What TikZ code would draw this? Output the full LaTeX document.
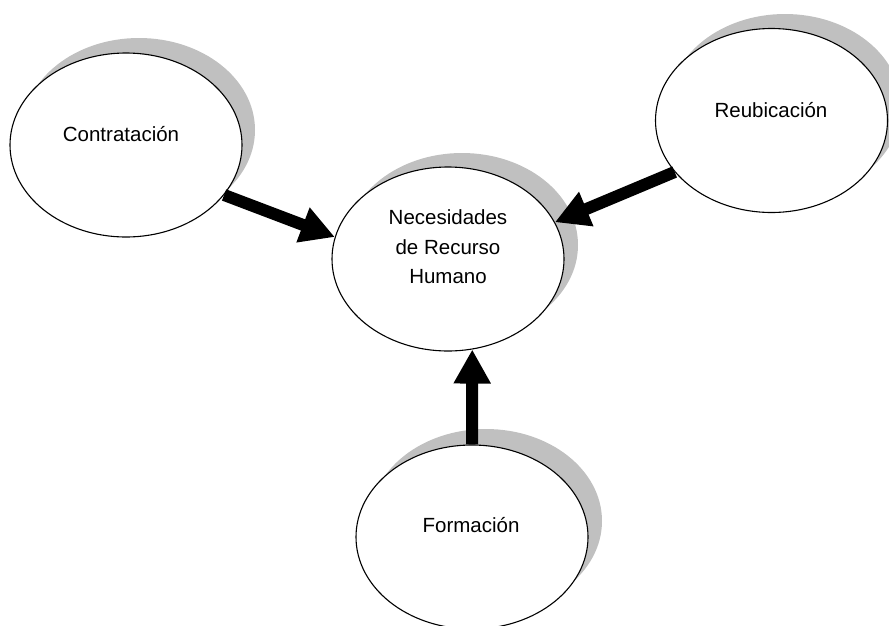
\documentclass[tikz,border=0pt]{standalone}
\usepackage{fontspec}
\setmainfont{Liberation Sans}
\usetikzlibrary{shapes.geometric,arrows.meta}
\definecolor{shadowgray}{HTML}{C0C0C0}
\begin{document}
\begin{tikzpicture}[x=1pt,y=-1pt,
  bubble/.style={ellipse,draw=black,line width=1.1pt,fill=white,minimum width=232pt,minimum height=184pt,inner sep=0pt},
  shade/.style={ellipse,fill=shadowgray,minimum width=232pt,minimum height=184pt,inner sep=0pt},
  lbl/.style={font=\fontsize{20.5}{29.5}\selectfont,align=center,inner sep=0pt},
  flow/.style={line width=12pt,-{Triangle[length=34pt,width=35pt]}}]
\useasboundingbox (0,0) rectangle (889,625);
\clip (0,0) rectangle (889,625);
% shadows
\node[shade] (contrS) at (139,130) {};
\node[shade] (necS) at (462,245) {};
\node[shade] (reubS) at (785,106) {};
\node[shade] (formS) at (486,521) {};
% ellipses
\node[bubble] (contr) at (126,145) {};
\node[bubble] (nec) at (448,259) {};
\node[bubble] (reub) at (771.5,120.5) {};
\node[bubble] (form) at (472,537) {};
% arrows
\draw[flow] (contr.-27.3) -- (nec.169.5);
\draw[flow] (reub.208.2) -- (nec.19.1);
\draw[flow] (form.north) -- (nec.-75);
% labels
\node[lbl,anchor=base] (contrT) at (121,141) {Contratación};
\node[lbl] (necT) at (448,247) {Necesidades\\de Recurso\\Humano};
\node[lbl,anchor=base] (reubT) at (771,117) {Reubicación};
\node[lbl,anchor=base] (formT) at (471,532) {Formación};
\end{tikzpicture}
\end{document}
